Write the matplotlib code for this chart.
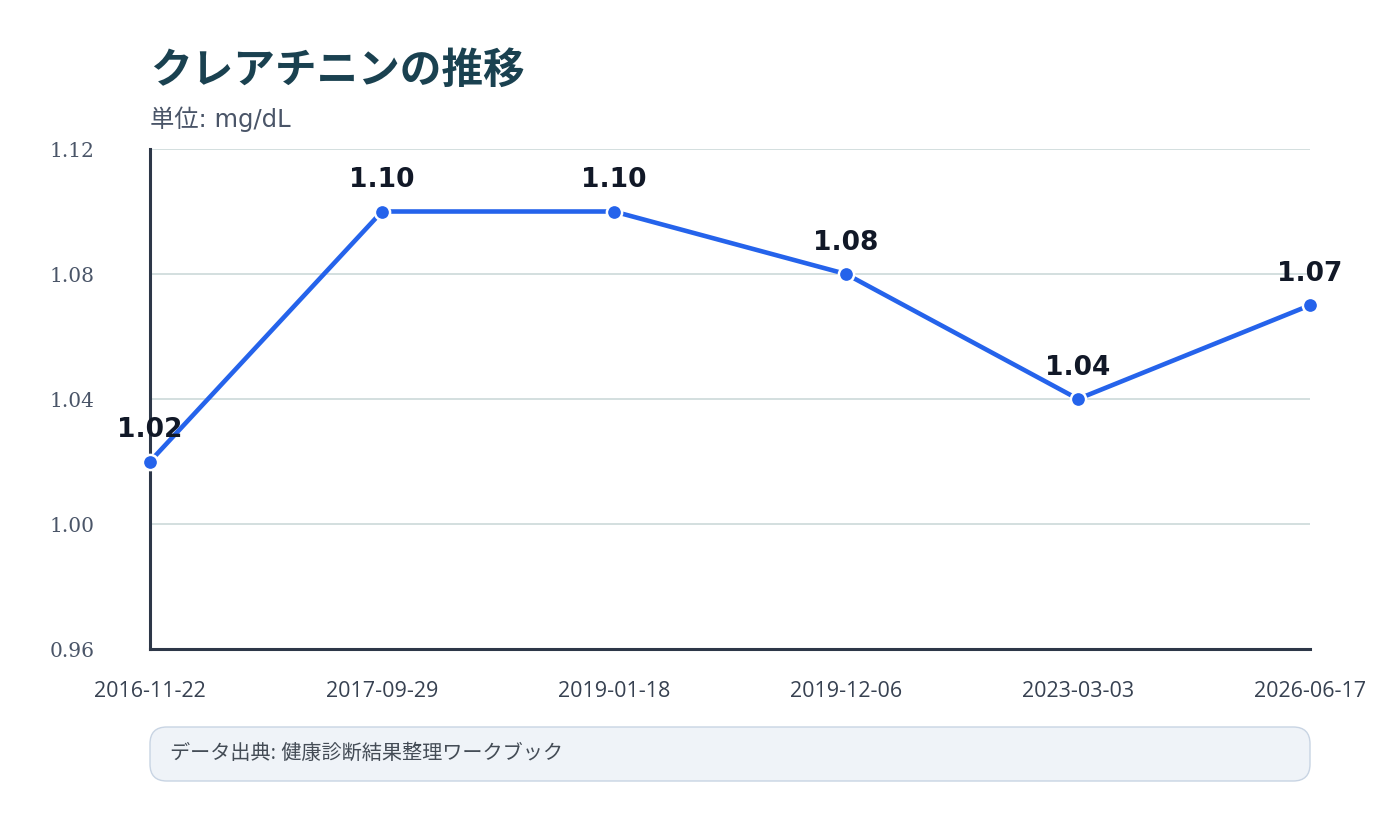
import matplotlib
matplotlib.use("Agg")
import matplotlib.pyplot as plt
from matplotlib.patches import FancyBboxPatch

plt.rcParams['font.family'] = ['Noto Sans CJK JP', 'DejaVu Sans']

dates = ["2016-11-22", "2017-09-29", "2019-01-18", "2019-12-06", "2023-03-03", "2026-06-17"]
values = [1.02, 1.10, 1.10, 1.08, 1.04, 1.07]
yticks = [0.96, 1.00, 1.04, 1.08, 1.12]
title = "クレアチニンの推移"
subtitle = "単位: mg/dL"
source = "データ出典: 健康診断結果整理ワークブック"

W, H = 1400, 820
fig = plt.figure(figsize=(W / 100, H / 100), dpi=100)
ax = fig.add_axes([150 / W, 1 - 650 / H, 1160 / W, 500 / H])

x = list(range(len(dates)))
ax.plot(x, values, color="#2563eb", lw=3.3, zorder=3, solid_capstyle="round")
ax.scatter(x, values, s=120, color="#2563eb", edgecolor="white", linewidth=1.8, zorder=4, clip_on=False)
for xi, v in zip(x, values):
    ax.annotate(f"{v:.2f}", (xi, v), xytext=(0, 14), textcoords="offset points",
                ha="center", va="bottom", fontsize=19, fontweight="bold", color="#111827",
                family=["DejaVu Sans"])

ax.set_xlim(0, len(dates) - 1)
ax.set_ylim(0.96, 1.12)
ax.set_yticks(yticks)
ax.set_yticklabels([f"{t:.2f}" for t in yticks], family=["DejaVu Serif"], fontsize=14.5, color="#4a5568")
ax.set_xticks(x)
ax.set_xticklabels(dates, fontsize=15.5, color="#374151", family=["Open Sans", "DejaVu Sans"])
ax.tick_params(axis="x", length=0, pad=22)
ax.tick_params(axis="y", length=0, pad=40)

ax.grid(axis="y", color="#d3dfdf", lw=1.4)
ax.set_axisbelow(True)
for s in ["top", "right"]:
    ax.spines[s].set_visible(False)
for s in ["left", "bottom"]:
    ax.spines[s].set_color("#2d3748")
    ax.spines[s].set_linewidth(2.2)

fig.text(150 / W, 1 - 71 / H, title, fontsize=30, fontweight="bold", color="#1a4150", va="center", ha="left")
fig.text(150 / W, 1 - 119 / H, subtitle, fontsize=17.5, color="#4a5568", va="center", ha="left",
         family=["DejaVu Sans", "Noto Sans CJK JP"])

box = FancyBboxPatch((150 / W, 1 - 782 / H), 1160 / W, 54 / H,
                     boxstyle="round,pad=0,rounding_size=0.012", transform=fig.transFigure,
                     facecolor="#eff3f8", edgecolor="#c8d4e3", lw=1.0, mutation_aspect=W / H)
fig.patches.append(box)
fig.text(170 / W, 1 - 754 / H, source, fontsize=14.5, color="#444c56", va="center", ha="left",
         family=["Open Sans", "Noto Sans CJK JP"])

fig.savefig("out.png", dpi=100, facecolor="white")
